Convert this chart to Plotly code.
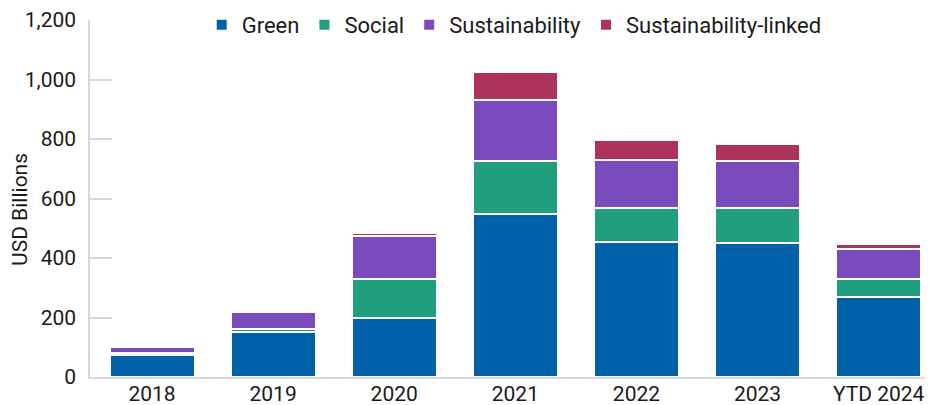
import plotly.graph_objects as go

categories = ["2018", "2019", "2020", "2021", "2022", "2023", "YTD 2024"]
green = [73, 150, 198, 548, 455, 450, 269]
social = [7, 11, 133, 177, 114, 118, 61]
sustainability = [21, 56, 143, 207, 159, 158, 100]
sustainability_linked = [0, 0, 10, 92, 67, 56, 16]

series = [
    ("Green", green, "#0061A8"),
    ("Social", social, "#219E7D"),
    ("Sustainability", sustainability, "#7A4BBC"),
    ("Sustainability-linked", sustainability_linked, "#AD325E"),
]

fig = go.Figure()
for name, vals, color in series:
    fig.add_trace(go.Bar(
        x=categories, y=vals, name=name,
        marker=dict(color=color, line=dict(color="white", width=2)),
    ))

# page body has an 8px margin, so the figure is sized/offset to compensate
fig.update_layout(
    barmode="stack",
    bargap=0.298,
    width=924, height=397,
    margin=dict(l=82, r=2, t=12, b=28, autoexpand=False),
    paper_bgcolor="white", plot_bgcolor="white",
    font=dict(family="Roboto", size=21, color="#1a1a1a"),
    legend=dict(orientation="h", x=0.505, xanchor="center", y=0.986, yanchor="middle",
                font=dict(size=22), bgcolor="rgba(0,0,0,0)",
                itemwidth=30, traceorder="normal"),
    showlegend=True,
    annotations=[dict(text="USD Billions", textangle=-90, xref="paper", yref="paper",
                      x=-0.0833, y=0.468, xanchor="center", yanchor="middle",
                      showarrow=False, font=dict(size=21, color="#1a1a1a"))],
)
fig.update_yaxes(
    range=[0, 1200], dtick=200, tickformat=",",
    showgrid=False, zeroline=False, automargin=False,
    showline=True, linecolor="#d5d8dd", linewidth=1.5,
    ticks="inside", ticklen=22, tickcolor="#d5d8dd", tickwidth=1.5,
    tickfont=dict(size=21), ticklabelstandoff=8,
)
fig.update_xaxes(
    range=[-0.512, 6.424],
    showgrid=False, showline=True, linecolor="#d5d8dd", linewidth=2,
    ticks="", tickfont=dict(size=21), automargin=False, ticklabelstandoff=-3,
)

fig.write_html("out.html")
